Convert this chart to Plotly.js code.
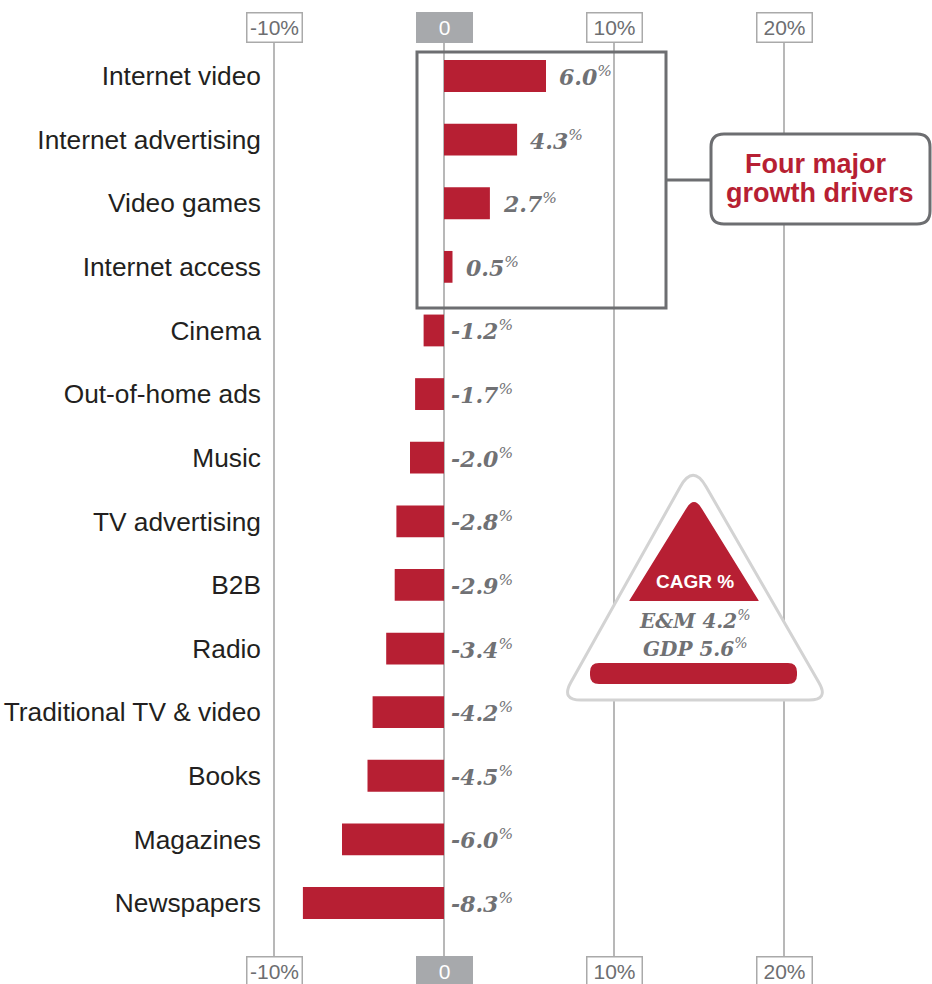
<!DOCTYPE html>
<html>
<head>
<meta charset="utf-8">
<script src="https://cdn.plot.ly/plotly-3.0.1.min.js"></script>
<style>
html,body{margin:0;padding:0;background:#fff;}
#chart{width:932px;height:984px;}
</style>
</head>
<body>
<div id="chart"></div>
<script>
// ---- data ----
const categories = ['Internet video','Internet advertising','Video games','Internet access','Cinema','Out-of-home ads','Music','TV advertising','B2B','Radio','Traditional TV & video','Books','Magazines','Newspapers'];
const cagr = [6.0, 4.3, 2.7, 0.5, -1.2, -1.7, -2.0, -2.8, -2.9, -3.4, -4.2, -4.5, -6.0, -8.3];
const tickVals = [-10, 0, 10, 20];
const tickLabels = ['-10%', '0', '10%', '20%'];
const calloutLines = ['Four major', 'growth drivers'];
const badgeTitle = 'CAGR %';
const benchNames = ['E&M', 'GDP'];
const benchValues = [4.2, 5.6];

// ---- styling / layout helpers ----
const RED = '#b71f33';
const GRAY = '#6d6e71';
const W = 932, H = 984;
const M = {l: 268, r: 0, t: 43, b: 28};
const PW = W - M.l - M.r, PH = H - M.t - M.b;
const px = x => (x - M.l) / PW;
const py = y => 1 - (y - M.t) / PH;
const pt = (x, y) => px(x).toFixed(5) + ',' + py(y).toFixed(5);

function roundRect(x0, y0, x1, y1, r) {
  return 'M' + pt(x0 + r, y0) + ' L' + pt(x1 - r, y0) + ' Q' + pt(x1, y0) + ' ' + pt(x1, y0 + r) +
    ' L' + pt(x1, y1 - r) + ' Q' + pt(x1, y1) + ' ' + pt(x1 - r, y1) +
    ' L' + pt(x0 + r, y1) + ' Q' + pt(x0, y1) + ' ' + pt(x0, y1 - r) +
    ' L' + pt(x0, y0 + r) + ' Q' + pt(x0, y0) + ' ' + pt(x0 + r, y0) + ' Z';
}
function roundPoly(pts, radii) {
  const n = pts.length;
  let d = '';
  for (let i = 0; i < n; i++) {
    const p = pts[i], prev = pts[(i - 1 + n) % n], next = pts[(i + 1) % n];
    const r = radii[i];
    const v1 = [prev[0] - p[0], prev[1] - p[1]], l1 = Math.hypot(v1[0], v1[1]);
    const v2 = [next[0] - p[0], next[1] - p[1]], l2 = Math.hypot(v2[0], v2[1]);
    const a = [p[0] + v1[0] / l1 * r, p[1] + v1[1] / l1 * r];
    const b = [p[0] + v2[0] / l2 * r, p[1] + v2[1] / l2 * r];
    d += (i === 0 ? 'M' : ' L') + pt(a[0], a[1]) + ' Q' + pt(p[0], p[1]) + ' ' + pt(b[0], b[1]);
  }
  return d + ' Z';
}

const xRange = [(M.l - 444) / 17, (W - M.r - 444) / 17];
const rowPx = 63.6;
const yRange = [categories.length - 1 + (956 - 903) / rowPx, -(76 - 43) / rowPx];

const traces = [{
  type: 'bar', orientation: 'h',
  x: cagr, y: categories,
  width: 0.5,
  marker: {color: RED, line: {width: 0}},
  hoverinfo: 'skip'
}];

const pctSup = '<sup><span style="font-weight:normal">%</span></sup>';
const annotations = [];
// value labels
cagr.forEach((v, i) => {
  annotations.push({
    xref: 'x', yref: 'y', x: v > 0 ? v : 0, y: categories[i],
    xanchor: 'left', yanchor: 'middle', xshift: v > 0 ? 11 : 5, yshift: 0,
    text: v.toFixed(1) + pctSup, showarrow: false,
    font: {family: 'DejaVu Serif', size: 22, color: '#707174', style: 'italic', weight: 'bold'}
  });
});
// tick label boxes top & bottom
tickVals.forEach((t, i) => {
  const zero = t === 0;
  [1, 0].forEach(side => {
    annotations.push({
      xref: 'x', yref: 'paper', x: t, y: side,
      xanchor: 'center', yanchor: side ? 'bottom' : 'top',
      text: tickLabels[i], showarrow: false,
      width: 52, height: 26, borderpad: 1, borderwidth: 1.5,
      bordercolor: zero ? '#a7a9ac' : '#aaaaaa', bgcolor: zero ? '#a7a9ac' : '#ffffff',
      font: {family: 'Liberation Sans, Arial', size: 21, color: zero ? '#ffffff' : GRAY}
    });
  });
});
// callout text (two tight lines, boxes stacked without overlap)
calloutLines.forEach((s, i) => {
  annotations.push({
    xref: 'paper', yref: 'paper', x: px(i === 0 ? 816 : 820), y: py(149.5 + i * 29.5),
    xanchor: 'center', yanchor: 'top', height: 27, valign: 'bottom',
    text: '<b>' + s + '</b>', showarrow: false,
    font: {family: 'Liberation Sans, Arial', size: 27, color: RED}
  });
});
// badge text
annotations.push({
  xref: 'paper', yref: 'paper', x: px(695), y: py(581), xanchor: 'center', yanchor: 'middle',
  text: '<b>' + badgeTitle + '</b>', showarrow: false,
  font: {family: 'Liberation Sans, Arial', size: 19, color: '#ffffff'}
});
benchNames.forEach((nm, i) => {
  annotations.push({
    xref: 'paper', yref: 'paper', x: px(695), y: py(620 + i * 28), xanchor: 'center', yanchor: 'middle',
    height: 26, text: nm + ' ' + benchValues[i].toFixed(1) + pctSup, showarrow: false,
    font: {family: 'DejaVu Serif', size: 20, color: '#707174', style: 'italic', weight: 'bold'}
  });
});

const shapes = [
  // box around growth drivers
  {type: 'rect', xref: 'paper', yref: 'paper', x0: px(417), x1: px(666), y0: py(52), y1: py(308),
   line: {color: GRAY, width: 3}, fillcolor: 'rgba(0,0,0,0)'},
  // connector
  {type: 'line', xref: 'paper', yref: 'paper', x0: px(666), x1: px(711), y0: py(180), y1: py(180),
   line: {color: GRAY, width: 3}},
  // callout
  {type: 'path', xref: 'paper', yref: 'paper', path: roundRect(711, 134, 930, 224, 13),
   line: {color: GRAY, width: 3}, fillcolor: '#ffffff'},
  // badge outer triangle
  {type: 'path', xref: 'paper', yref: 'paper',
   path: roundPoly([[693, 464], [829, 700], [561, 700]], [26, 20, 20]),
   line: {color: '#d3d3d3', width: 3}, fillcolor: '#ffffff'},
  // inner red triangle
  {type: 'path', xref: 'paper', yref: 'paper',
   path: roundPoly([[694, 496], [759, 601], [629, 601]], [14, 1, 1]),
   line: {width: 0}, fillcolor: RED},
  // red base bar
  {type: 'path', xref: 'paper', yref: 'paper', path: roundRect(590, 663, 797, 684, 9),
   line: {width: 0}, fillcolor: RED}
];

const layout = {
  width: W, height: H,
  margin: M,
  paper_bgcolor: '#ffffff', plot_bgcolor: '#ffffff',
  showlegend: false,
  bargap: 0.5,
  xaxis: {
    range: xRange, tickvals: tickVals, showticklabels: false, ticks: '',
    showgrid: true, gridcolor: '#b8b8b8', gridwidth: 1.5, zeroline: false, showline: false, fixedrange: true
  },
  yaxis: {
    type: 'category', categoryorder: 'array', categoryarray: categories,
    range: yRange, ticks: '', showgrid: false, zeroline: false, showline: false,
    ticklabelstandoff: 6,
    tickfont: {family: 'Liberation Sans, Arial', size: 26.3, color: '#231f20'}, fixedrange: true
  },
  shapes: shapes,
  annotations: annotations
};

Plotly.newPlot('chart', traces, layout, {displayModeBar: false, staticPlot: true});
</script>
</body>
</html>
